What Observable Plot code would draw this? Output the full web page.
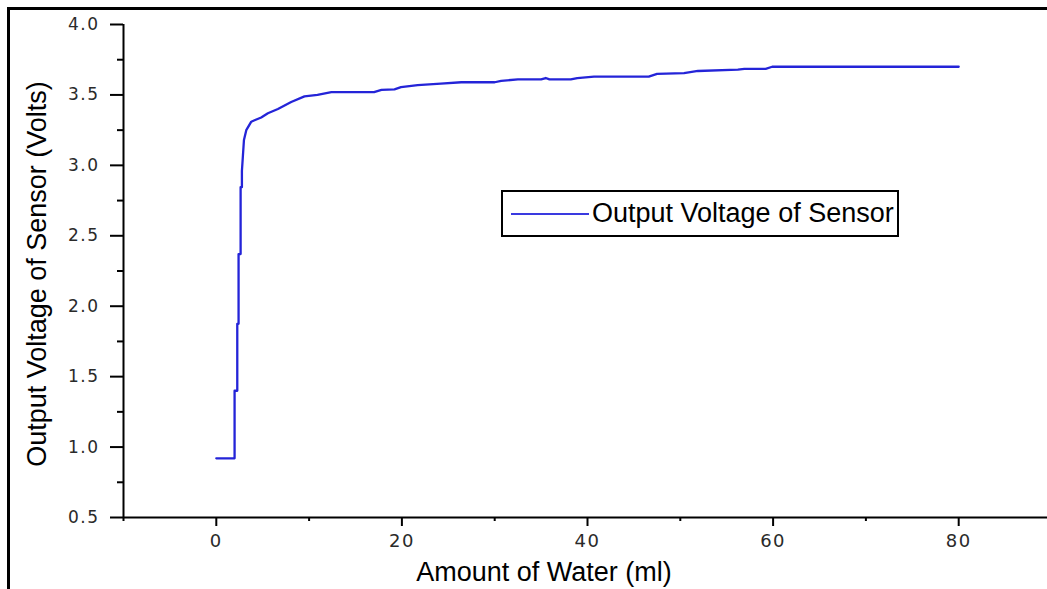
<!DOCTYPE html>
<html>
<head>
<meta charset="utf-8">
<script src="https://cdn.jsdelivr.net/npm/d3@7"></script>
<script src="https://cdn.jsdelivr.net/npm/@observablehq/plot@0.6"></script>
<style>
  html, body { margin: 0; padding: 0; background: #fff; }
  #wrap { position: relative; width: 1047px; height: 589px; overflow: hidden; font-family: "Liberation Sans", Arial, sans-serif; }
  #frame { position: absolute; left: 7px; top: 7px; width: 1100px; height: 700px; border-left: 3px solid #000; border-top: 3px solid #000; }
  #chart { position: absolute; left: 0; top: 0; }
  .title { position: absolute; font-size: 27px; color: #000; white-space: nowrap; line-height: 1; }
  #xtitle { left: 544px; top: 559px; transform: translate(-50%, 0); }
  #ytitle { left: 37px; top: 274px; transform: translate(-50%, -50%) rotate(-90deg); transform-origin: 50% 50%; }
  #legend { position: absolute; left: 501px; top: 190px; width: 394px; height: 43px; border: 2px solid #000; background: #fff; }
  #legend .swatch { position: absolute; left: 8px; top: 21px; width: 78px; height: 0; border-top: 2px solid #3a3ae0; }
  #legend .lab { position: absolute; left: 89px; top: 8px; font-size: 27px; line-height: 1; white-space: nowrap; }
</style>
</head>
<body>
<div id="wrap">
  <div id="chart"></div>
  <div id="frame"></div>
  <div class="title" id="xtitle">Amount of Water (ml)</div>
  <div class="title" id="ytitle">Output Voltage of Sensor (Volts)</div>
  <div id="legend"><div class="swatch"></div><div class="lab">Output Voltage of Sensor</div></div>
</div>
<script>
const waterMl = [0, 1.97, 1.97, 2.26, 2.26, 2.40, 2.40, 2.62, 2.62, 2.76, 2.76, 2.87, 2.98, 3.23, 3.77, 4.12, 4.84, 5.56, 6.64, 8.07, 9.5, 10.9, 12.4, 17.0, 17.8, 19.2, 19.9, 21.7, 24.2, 26.4, 30.0, 30.7, 32.5, 35.0, 35.5, 35.9, 38.2, 38.9, 40.7, 46.6, 47.5, 50.4, 51.9, 56.2, 56.9, 59.2, 59.9, 80];
const voltage = [0.92, 0.92, 1.40, 1.40, 1.875, 1.875, 2.37, 2.37, 2.845, 2.845, 2.96, 3.07, 3.18, 3.25, 3.31, 3.32, 3.34, 3.37, 3.40, 3.45, 3.49, 3.50, 3.52, 3.52, 3.536, 3.54, 3.555, 3.57, 3.58, 3.59, 3.59, 3.60, 3.61, 3.61, 3.62, 3.61, 3.61, 3.62, 3.63, 3.63, 3.65, 3.655, 3.67, 3.68, 3.685, 3.685, 3.70, 3.70];
const xMajorTicks = [0, 20, 40, 60, 80];
const xMinorTicks = [-10, 10, 30, 50, 70, 90];
const yMajorTicks = [0.5, 1.0, 1.5, 2.0, 2.5, 3.0, 3.5, 4.0];
const yMinorTicks = [0.75, 1.25, 1.75, 2.25, 2.75, 3.25, 3.75];
const xDomain = [-10, 90];
const yDomain = [0.5, 4.0];

const data = waterMl.map((x, i) => ({x, y: voltage[i]}));

const chart = Plot.plot({
  width: 1047,
  height: 589,
  marginLeft: 123,
  marginRight: 0,
  marginTop: 24,
  marginBottom: 72,
  style: {background: "transparent", fontFamily: "'DejaVu Sans', sans-serif", overflow: "hidden"},
  x: {domain: xDomain, range: [123, 1051], label: null},
  y: {domain: yDomain, range: [517, 24], label: null},
  marks: [
    Plot.ruleX([xDomain[0]], {y1: yDomain[0], y2: yDomain[1], stroke: "#000", strokeWidth: 2}),
    Plot.ruleY([yDomain[0]], {x1: xDomain[0], x2: xDomain[1], stroke: "#000", strokeWidth: 2}),
    Plot.axisY({ticks: yMajorTicks, tickSize: 13, tickPadding: 11, tickFormat: d3.format(".1f"), fontSize: 17, strokeWidth: 2, color: "#000", label: null}),
    Plot.axisY({ticks: yMinorTicks, tickSize: 6, tickFormat: () => "", strokeWidth: 2, color: "#000", label: null}),
    Plot.axisX({ticks: xMajorTicks, tickSize: 9, tickPadding: 8, tickFormat: d3.format("d"), fontSize: 18, strokeWidth: 2, color: "#000", label: null}),
    Plot.axisX({ticks: xMinorTicks, tickSize: 4, tickFormat: () => "", strokeWidth: 2, color: "#000", label: null}),
    Plot.line(data, {x: "x", y: "y", stroke: "#2424d8", strokeWidth: 2.3})
  ]
});
chart.querySelectorAll("text").forEach(t => { t.setAttribute("letter-spacing", "1.5"); t.setAttribute("fill", "#2a2a2a"); });
document.getElementById("chart").appendChild(chart);
</script>
</body>
</html>
